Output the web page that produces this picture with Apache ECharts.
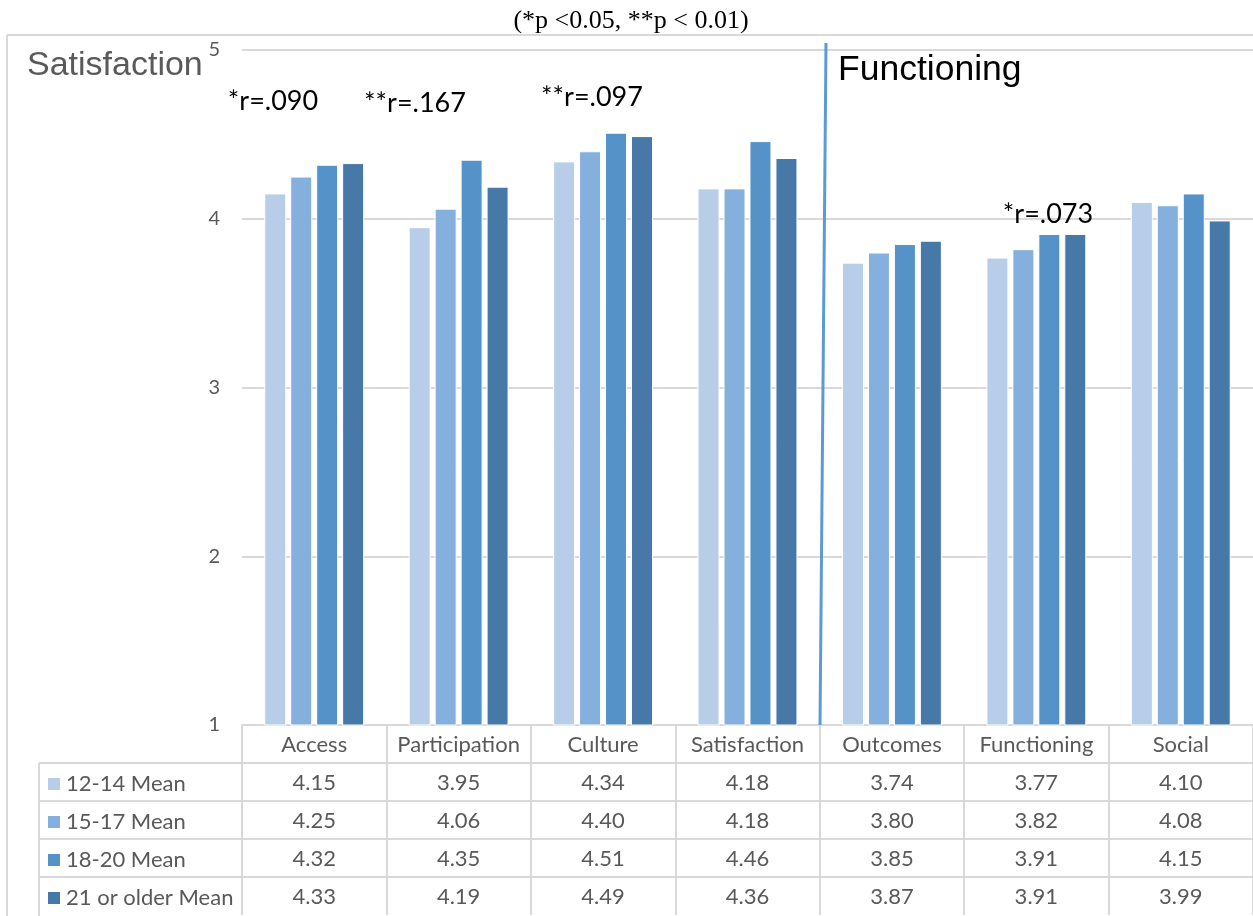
<!DOCTYPE html>
<html><head><meta charset="utf-8">
<script src="https://cdn.jsdelivr.net/npm/echarts@6/dist/echarts.min.js"></script>
<style>html,body{margin:0;padding:0;background:#fff}#c{width:1253px;height:916px}</style>
</head><body><div id="c"></div>
<script>
const categories = ['Access','Participation','Culture','Satisfaction','Outcomes','Functioning','Social'];
const seriesNames = ['12-14 Mean','15-17 Mean','18-20 Mean','21 or older Mean'];
const m1214 = [4.15,3.95,4.34,4.18,3.74,3.77,4.10];
const m1517 = [4.25,4.06,4.40,4.18,3.80,3.82,4.08];
const m1820 = [4.32,4.35,4.51,4.46,3.85,3.91,4.15];
const m21 = [4.33,4.19,4.49,4.36,3.87,3.91,3.99];
const colors = ['#b8cde8','#85afdc','#5492c8','#4678a8'];
const yTicks = [1,2,3,4,5];
const title = '(*p <0.05, **p < 0.01)';
const annotationTexts = ['*r=.090','**r=.167','**r=.097','*r=.073'];
// layout (pixel centres) of the annotation texts
const annotationPos = [[273,101],[415,103],[592,97],[1048,214]];
const allSeries = [m1214,m1517,m1820,m21];

const tableFont = 'Lato';
const grey = '#595959';
const lineCol = '#d9d9d9';
const rowH = 38;

const xAxes = [{
  type:'category', data:categories, gridIndex:0, position:'bottom',
  axisLine:{show:true, lineStyle:{color:lineCol,width:2}},
  axisTick:{show:true, interval:0, length:rowH*5, lineStyle:{color:lineCol,width:2}},
  axisLabel:{interval:0, color:grey, fontFamily:tableFont, fontSize:22, margin:1, lineHeight:rowH}
}];
allSeries.forEach((arr,k)=>{
  xAxes.push({
    type:'category', data:arr.map(v=>v.toFixed(2)), gridIndex:0, position:'bottom',
    offset:rowH*(k+1),
    axisLine:{show:true, lineStyle:{color:lineCol,width:2}},
    axisTick:{show:false},
    axisLabel:{interval:0, color:grey, fontFamily:tableFont, fontSize:22, margin:1, lineHeight:rowH}
  });
});

const chart = echarts.init(document.getElementById('c'));
const option = {
  backgroundColor:'#fff',
  animation:false,
  grid:{left:242, right:0, top:50, bottom:188},
  legend:{
    data:seriesNames, orient:'vertical', left:46, top:772, padding:0, height:160,
    itemWidth:14, itemHeight:14, itemGap:14, icon:'rect',
    textStyle:{color:grey, fontFamily:tableFont, fontSize:22, lineHeight:24},
    selectedMode:false
  },
  xAxis:xAxes,
  yAxis:{
    type:'value', min:yTicks[0], max:yTicks[yTicks.length-1], interval:1,
    axisLine:{show:false}, axisTick:{show:false},
    axisLabel:{color:grey, fontFamily:tableFont, fontSize:20, margin:22},
    splitLine:{show:true, lineStyle:{color:lineCol,width:2}}
  },
  series: allSeries.map((arr,k)=>({
    name:seriesNames[k], type:'bar', data:arr, xAxisIndex:0,
    barWidth:22, barGap:'18%',
    itemStyle:{color:colors[k], borderColor:'#ffffff', borderWidth:1}
  })),
  graphic:[]
};
chart.setOption(option);

const g = [];
g.push({type:'line', shape:{x1:7,y1:35,x2:1253,y2:35}, style:{stroke:lineCol,lineWidth:2}, z:0});
g.push({type:'line', shape:{x1:7,y1:35,x2:7,y2:916}, style:{stroke:lineCol,lineWidth:2}, z:0});
const bottomY = chart.convertToPixel({yAxisIndex:0}, yTicks[0]);
const c0 = chart.convertToPixel({xAxisIndex:0}, categories[0]);
const c1 = chart.convertToPixel({xAxisIndex:0}, categories[1]);
const leftX = c0 - (c1 - c0)/2;
for (let k=1;k<=4;k++){
  g.push({type:'line', shape:{x1:39,y1:bottomY+rowH*k,x2:leftX,y2:bottomY+rowH*k}, style:{stroke:lineCol,lineWidth:2}});
}
g.push({type:'line', shape:{x1:39,y1:bottomY+rowH,x2:39,y2:916}, style:{stroke:lineCol,lineWidth:2}});
g.push({type:'text', x:631, y:21, z:100, style:{text:title, font:'26px "Liberation Serif"', fill:'#000', textAlign:'center', textVerticalAlign:'middle'}});
g.push({type:'text', x:27, y:49, z:100, style:{text:'Satisfaction', font:'34px "Liberation Sans"', fill:grey}});
g.push({type:'text', x:838, y:52, z:100, style:{text:'Functioning', font:'35.5px "Liberation Sans"', fill:'#000'}});
g.push({type:'line', shape:{x1:826,y1:43,x2:820,y2:725}, style:{stroke:'#5b9bd5',lineWidth:3}, z:100});
annotationTexts.forEach((t,i)=>{
  g.push({type:'text', x:annotationPos[i][0], y:annotationPos[i][1], z:100, style:{text:t, font:'27px Lato', fill:'#000', textAlign:'center', textVerticalAlign:'middle'}});
});
chart.setOption({graphic:g});
</script></body></html>
